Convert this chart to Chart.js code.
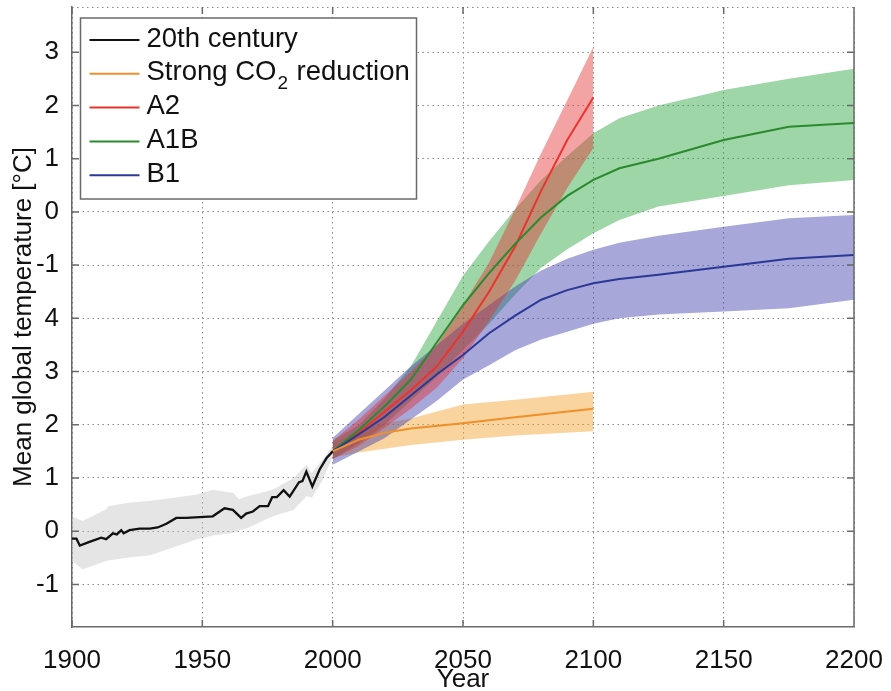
<!DOCTYPE html>
<html>
<head>
<meta charset="utf-8">
<script src="https://cdn.jsdelivr.net/npm/chart.js@4.4.1/dist/chart.umd.min.js"></script>
<style>
    html, body { margin: 0; padding: 0; background: #fff; }
</style>
</head>
<body>
<canvas id="tempChart" width="891" height="691"></canvas>
<script>
// --- data ---
const xTickValues = [1900, 1950, 2000, 2050, 2100, 2150, 2200];
const xTickLabels = ['1900', '1950', '2000', '2050', '2100', '2150', '2200'];
const yTickValues = [-1, 0, 1, 2, 3, 4, 5, 6, 7, 8, 9];
const yTickLabels = ['-1', '0', '1', '2', '3', '4', '-1', '0', '1', '2', '3'];

const seriesNames = ['20th century', 'Strong CO\u2082 reduction', 'A2', 'A1B', 'B1'];
const seriesColors = ['#111111', '#f0902a', '#e8342c', '#2a8a2e', '#2b3896'];

// 20th century
const histYears = [1900, 1901.7, 1903, 1906.7, 1911.2, 1913.1, 1915.7, 1917.2, 1918.9, 1919.8, 1922.1, 1925.9,
    1929.8, 1932.9, 1936.2, 1940, 1943.8, 1954, 1958.5, 1961.7, 1964.9, 1966.8, 1969.4, 1972, 1975.2, 1976.8,
    1978.6, 1981.2, 1983.5, 1987.1, 1988.4, 1989.9, 1992.2, 1995, 1997.6, 2000];
const histTemp = [-0.14, -0.14, -0.27, -0.2, -0.12, -0.15, -0.04, -0.06, 0.02, -0.04, 0.02, 0.05,
    0.05, 0.07, 0.14, 0.25, 0.25, 0.28, 0.43, 0.4, 0.25, 0.33, 0.37, 0.47, 0.47, 0.64,
    0.64, 0.77, 0.65, 0.92, 0.94, 1.12, 0.84, 1.16, 1.37, 1.5];
const histBandYears = [1900, 1904, 1913, 1914, 1921, 1930, 1939, 1948, 1954, 1962, 1964, 1967, 1977, 1985, 1990, 1992, 1996, 2000];
const histUpper = [0.28, 0.19, 0.41, 0.47, 0.53, 0.57, 0.63, 0.69, 0.78, 0.72, 0.6, 0.65, 0.78, 1.0, 1.25, 1.09, 1.34, 1.6];
const histLower = [-0.55, -0.72, -0.56, -0.55, -0.5, -0.45, -0.3, -0.15, -0.08, -0.03, 0.02, 0.05, 0.28, 0.4, 0.66, 0.63, 0.95, 1.4];

// Strong CO2 reduction
const co2Years = [2000, 2010, 2020, 2030, 2050, 2070, 2100];
const co2Temp = [1.5, 1.72, 1.85, 1.93, 2.03, 2.14, 2.3];
const co2Upper = [1.65, 1.9, 2.03, 2.12, 2.38, 2.47, 2.62];
const co2Lower = [1.38, 1.48, 1.55, 1.62, 1.72, 1.8, 1.88];

// A2
const a2Years = [2000, 2010, 2020, 2030, 2040, 2050, 2060, 2070, 2080, 2090, 2100];
const a2Temp = [1.5, 1.85, 2.25, 2.65, 3.1, 3.75, 4.5, 5.35, 6.4, 7.35, 8.15];
const a2Upper = [1.7, 2.1, 2.55, 3.0, 3.5, 4.25, 5.05, 6.05, 7.1, 8.1, 9.1];
const a2Lower = [1.35, 1.6, 1.95, 2.3, 2.7, 3.25, 3.95, 4.7, 5.6, 6.45, 7.2];

// A1B and B1 share the same years
const longYears = [2000, 2010, 2020, 2030, 2040, 2050, 2060, 2070, 2080, 2090, 2100, 2110, 2125, 2150, 2175, 2200];
const a1bTemp = [1.5, 1.9, 2.35, 2.85, 3.55, 4.25, 4.85, 5.4, 5.9, 6.3, 6.6, 6.82, 7.0, 7.35, 7.6, 7.67];
const a1bUpper = [1.7, 2.0, 2.5, 3.1, 3.95, 4.8, 5.45, 6.05, 6.6, 7.05, 7.48, 7.76, 8.0, 8.29, 8.5, 8.69];
const a1bLower = [1.35, 1.65, 2.0, 2.45, 2.9, 3.4, 3.9, 4.45, 4.95, 5.3, 5.6, 5.85, 6.1, 6.3, 6.5, 6.6];
const b1Temp = [1.5, 1.82, 2.15, 2.55, 2.95, 3.31, 3.72, 4.05, 4.35, 4.53, 4.66, 4.74, 4.82, 4.97, 5.12, 5.19];
const b1Upper = [1.75, 2.2, 2.65, 3.1, 3.5, 3.9, 4.25, 4.6, 4.9, 5.12, 5.29, 5.42, 5.55, 5.72, 5.88, 5.94];
const b1Lower = [1.25, 1.5, 1.75, 2.1, 2.45, 2.85, 3.12, 3.4, 3.6, 3.75, 3.9, 4.0, 4.07, 4.13, 4.19, 4.35];

const FONT = "'Liberation Sans', Arial, Helvetica, sans-serif";

// --- helpers ---
function pts(xs, ys) {
    return xs.map((x, i) => ({ x: x, y: ys[i] }));
}

function lineSet(xs, ys, color, width) {
    return { data: pts(xs, ys), borderColor: color, borderWidth: width || 2, fill: false, order: 0 };
}

// upper edge filled down to the lower edge (next dataset)
function bandSet(xs, up, lo, color, order) {
    return [
        { data: pts(xs, up), borderColor: 'rgba(0,0,0,0)', borderWidth: 0, backgroundColor: color, fill: '+1', order: order },
        { data: pts(xs, lo), borderColor: 'rgba(0,0,0,0)', borderWidth: 0, fill: false, order: order }
    ];
}

const datasets = [
    lineSet(histYears, histTemp, seriesColors[0], 2.3),
    lineSet(co2Years, co2Temp, seriesColors[1]),
    lineSet(longYears, b1Temp, seriesColors[4]),
    lineSet(longYears, a1bTemp, seriesColors[3]),
    lineSet(a2Years, a2Temp, seriesColors[2]),
    ...bandSet(a2Years, a2Upper, a2Lower, 'rgba(228,50,50,0.45)', 1),
    ...bandSet(longYears, b1Upper, b1Lower, 'rgba(60,60,172,0.45)', 2),
    ...bandSet(longYears, a1bUpper, a1bLower, 'rgba(40,165,60,0.45)', 3),
    ...bandSet(co2Years, co2Upper, co2Lower, 'rgba(245,160,40,0.45)', 4),
    ...bandSet(histBandYears, histUpper, histLower, 'rgba(190,190,190,0.4)', 5)
];

// box top/right + inward tick marks (MATLAB style)
const boxPlugin = {
    id: 'boxPlugin',
    afterDraw(chart) {
        const { ctx, chartArea: a, scales: { x, y } } = chart;
        ctx.save();
        ctx.strokeStyle = '#8a8a8a';
        ctx.lineWidth = 1;
        ctx.setLineDash([1.5, 3.5]);
        ctx.beginPath();
        ctx.moveTo(a.left, a.top + 0.5);
        ctx.lineTo(a.right, a.top + 0.5);
        ctx.stroke();
        ctx.setLineDash([]);
        ctx.strokeStyle = '#6a6a6a';
        ctx.lineWidth = 1.5;
        ctx.beginPath();
        ctx.moveTo(a.right, a.top);
        ctx.lineTo(a.right, a.bottom);
        yTickValues.forEach(v => {
            const py = y.getPixelForValue(v);
            ctx.moveTo(a.left, py); ctx.lineTo(a.left + 7, py);
            ctx.moveTo(a.right, py); ctx.lineTo(a.right - 7, py);
        });
        xTickValues.forEach(v => {
            const px = x.getPixelForValue(v);
            ctx.moveTo(px, a.top); ctx.lineTo(px, a.top + 7);
            ctx.moveTo(px, a.bottom); ctx.lineTo(px, a.bottom - 7);
        });
        ctx.stroke();
        ctx.restore();
    }
};

// legend box in the upper left corner
const legendPlugin = {
    id: 'legendBox',
    afterDraw(chart) {
        const { ctx, chartArea: a } = chart;
        const bx = a.left + 8.5, by = a.top + 11, bw = 336, bh = 181;
        ctx.save();
        ctx.fillStyle = '#fff';
        ctx.fillRect(bx, by, bw, bh);
        ctx.strokeStyle = '#6a6a6a';
        ctx.lineWidth = 1.5;
        ctx.strokeRect(bx, by, bw, bh);
        ctx.textBaseline = 'middle';
        ctx.textAlign = 'left';
        seriesNames.forEach((name, i) => {
            const ly = by + 22 + i * 33.8;
            ctx.strokeStyle = seriesColors[i];
            ctx.lineWidth = 2;
            ctx.beginPath();
            ctx.moveTo(bx + 9, ly);
            ctx.lineTo(bx + 59, ly);
            ctx.stroke();
            ctx.fillStyle = '#111';
            let tx = bx + 66;
            const parts = name.split('\u2082');
            parts.forEach((p, k) => {
                ctx.font = '27.5px ' + FONT;
                ctx.fillText(p, tx, ly - 1);
                tx += ctx.measureText(p).width;
                if (k < parts.length - 1) {
                    ctx.font = '19px ' + FONT;
                    ctx.fillText('2', tx + 1, ly + 10);
                    tx += ctx.measureText('2').width + 2;
                }
            });
        });
        ctx.restore();
    }
};

const ctx = document.getElementById('tempChart').getContext('2d');
const tempChart = new Chart(ctx, {
    type: 'line',
    data: { datasets: datasets },
    options: {
        responsive: false,
        animation: false,
        layout: { padding: { top: 7, right: 37, left: 0, bottom: 0 } },
        elements: { point: { radius: 0, hoverRadius: 0 }, line: { tension: 0 } },
        plugins: { legend: { display: false }, tooltip: { enabled: false } },
        scales: {
            x: {
                type: 'linear', min: 1900, max: 2200, z: 1,
                afterBuildTicks: s => { s.ticks = xTickValues.map(v => ({ value: v })); },
                afterFit: s => { s.height = 64; s.paddingLeft = 0; s.paddingRight = 0; },
                ticks: {
                    callback: (v, i) => xTickLabels[i],
                    autoSkip: false, maxRotation: 0, padding: 20,
                    color: '#111', font: { family: FONT, size: 26, lineHeight: 1.1 }
                },
                grid: { color: '#8a8a8a', lineWidth: 1, drawTicks: false },
                border: { display: true, color: '#6a6a6a', width: 1.5, dash: [1.5, 3.5] },
                title: {
                    display: true, text: 'Year', color: '#111',
                    font: { family: FONT, size: 26, lineHeight: 0.85 },
                    padding: { top: 0, bottom: 0 }
                }
            },
            y: {
                type: 'linear', min: -1.8, max: 9.85, z: 1,
                afterBuildTicks: s => { s.ticks = yTickValues.map(v => ({ value: v })); },
                afterFit: s => { s.width = 72; s.paddingTop = 0; s.paddingBottom = 0; },
                ticks: {
                    callback: (v, i) => yTickLabels[i],
                    autoSkip: false, padding: 13,
                    color: '#111', font: { family: FONT, size: 26 }
                },
                grid: { color: '#8a8a8a', lineWidth: 1, drawTicks: false },
                border: { display: true, color: '#6a6a6a', width: 1.5, dash: [1.5, 3.5] },
                title: {
                    display: true, text: 'Mean global temperature [°C]', color: '#111',
                    font: { family: FONT, size: 26, lineHeight: 1.2 },
                    padding: { top: 8, bottom: 0 }
                }
            }
        }
    },
    plugins: [boxPlugin, legendPlugin]
});
</script>
</body>
</html>
